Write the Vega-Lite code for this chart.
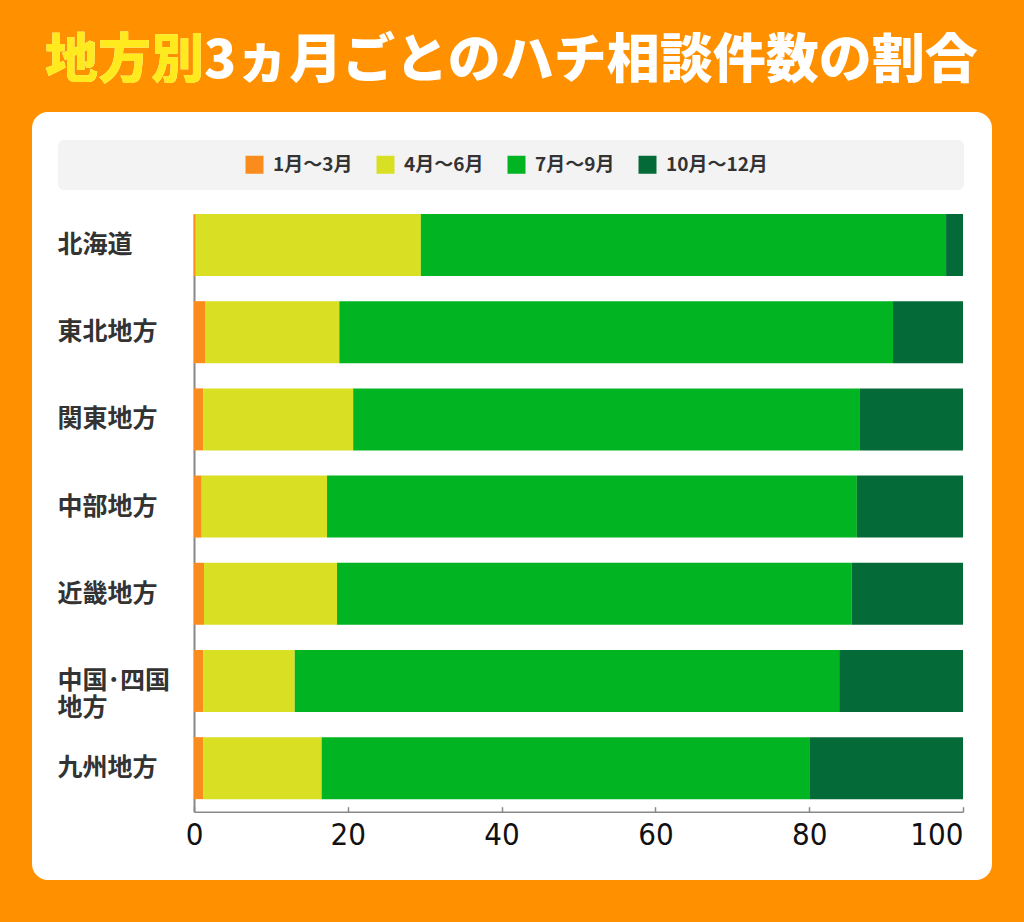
{
  "$schema": "https://vega.github.io/schema/vega-lite/v6.json",
  "description": "地方別3ヵ月ごとのハチ相談件数の割合（横積み上げ棒グラフ）",
  "background": "#FF9100",
  "autosize": {"type": "none"},
  "padding": {"top": 112, "left": 32, "right": 32, "bottom": 42},
  "width": 960,
  "height": 768,
  "title": {
    "text": "地方別3ヵ月ごとのハチ相談件数の割合",
    "subtitle": "地方別",
    "anchor": "start",
    "frame": "group",
    "dx": 13,
    "offset": 23,
    "font": "Noto Sans CJK JP",
    "fontSize": 53,
    "fontWeight": 900,
    "color": "#FFFFFF",
    "subtitleFont": "Noto Sans CJK JP",
    "subtitleFontSize": 53,
    "subtitleFontWeight": 900,
    "subtitleColor": "#FFEA1E",
    "subtitlePadding": -53
  },
  "data": {
    "values": [
      {"region": "北海道", "period": "1月～3月", "q": 1, "share": 0.2},
      {"region": "北海道", "period": "4月～6月", "q": 2, "share": 29.3},
      {"region": "北海道", "period": "7月～9月", "q": 3, "share": 68.3},
      {"region": "北海道", "period": "10月～12月", "q": 4, "share": 2.2},
      {"region": "東北地方", "period": "1月～3月", "q": 1, "share": 1.5},
      {"region": "東北地方", "period": "4月～6月", "q": 2, "share": 17.4},
      {"region": "東北地方", "period": "7月～9月", "q": 3, "share": 72.0},
      {"region": "東北地方", "period": "10月～12月", "q": 4, "share": 9.1},
      {"region": "関東地方", "period": "1月～3月", "q": 1, "share": 1.2},
      {"region": "関東地方", "period": "4月～6月", "q": 2, "share": 19.5},
      {"region": "関東地方", "period": "7月～9月", "q": 3, "share": 65.9},
      {"region": "関東地方", "period": "10月～12月", "q": 4, "share": 13.4},
      {"region": "中部地方", "period": "1月～3月", "q": 1, "share": 1.0},
      {"region": "中部地方", "period": "4月～6月", "q": 2, "share": 16.3},
      {"region": "中部地方", "period": "7月～9月", "q": 3, "share": 68.9},
      {"region": "中部地方", "period": "10月～12月", "q": 4, "share": 13.8},
      {"region": "近畿地方", "period": "1月～3月", "q": 1, "share": 1.3},
      {"region": "近畿地方", "period": "4月～6月", "q": 2, "share": 17.3},
      {"region": "近畿地方", "period": "7月～9月", "q": 3, "share": 66.9},
      {"region": "近畿地方", "period": "10月～12月", "q": 4, "share": 14.5},
      {"region": "中国・四国地方", "period": "1月～3月", "q": 1, "share": 1.2},
      {"region": "中国・四国地方", "period": "4月～6月", "q": 2, "share": 11.9},
      {"region": "中国・四国地方", "period": "7月～9月", "q": 3, "share": 70.8},
      {"region": "中国・四国地方", "period": "10月～12月", "q": 4, "share": 16.1},
      {"region": "九州地方", "period": "1月～3月", "q": 1, "share": 1.2},
      {"region": "九州地方", "period": "4月～6月", "q": 2, "share": 15.4},
      {"region": "九州地方", "period": "7月～9月", "q": 3, "share": 63.5},
      {"region": "九州地方", "period": "10月～12月", "q": 4, "share": 19.9}
    ]
  },
  "mark": {"type": "bar"},
  "encoding": {
    "y": {
      "field": "region",
      "type": "nominal",
      "sort": null,
      "scale": {"range": [102, 699.7], "paddingInner": 0.289, "paddingOuter": 0.072, "align": 0},
      "axis": {
        "title": null,
        "orient": "left",
        "offset": -162,
        "ticks": false,
        "domainColor": "#888888",
        "domainWidth": 2,
        "labelAlign": "left",
        "labelBaseline": "middle",
        "labelPadding": 137,
        "labelFont": "Noto Sans CJK JP",
        "labelFontSize": 25,
        "labelFontWeight": "bold",
        "labelColor": "#333333",
        "labelLineHeight": 27,
        "labelLimit": 300,
        "labelExpr": "datum.label == '中国・四国地方' ? ['中国･四国', '地方'] : datum.label"
      }
    },
    "x": {
      "field": "share",
      "type": "quantitative",
      "stack": "zero",
      "scale": {"domain": [0, 100], "range": [162, 931], "nice": false},
      "axis": {
        "title": null,
        "orient": "bottom",
        "offset": -68.3,
        "values": [0, 20, 40, 60, 80, 100],
        "grid": false,
        "domainColor": "#888888",
        "domainWidth": 1.5,
        "tickColor": "#888888",
        "tickWidth": 1.5,
        "tickSize": -5,
        "labelPadding": 14,
        "labelFont": "DejaVu Sans Condensed, Liberation Sans Narrow, sans-serif",
        "labelFontSize": 31,
        "labelColor": "#111111",
        "labelAlign": {"condition": {"test": "datum.value === 100", "value": "right"}, "value": "center"},
        "labelOverlap": false
      }
    },
    "color": {
      "field": "period",
      "type": "nominal",
      "scale": {
        "domain": ["1月～3月", "4月～6月", "7月～9月", "10月～12月"],
        "range": ["#FA8C1E", "#D9DF22", "#00B422", "#046A38"]
      },
      "legend": {
        "orient": "none",
        "legendX": 26,
        "legendY": 28,
        "direction": "horizontal",
        "title": "　",
        "titleOrient": "left",
        "titleFontSize": 10,
        "titlePadding": 172,
        "fillColor": "#F3F3F3",
        "cornerRadius": 6,
        "padding": 15,
        "symbolType": "square",
        "symbolSize": 324,
        "symbolStrokeWidth": 0,
        "symbolOpacity": 1,
        "columnPadding": 23,
        "labelOffset": 9,
        "labelFont": "Noto Sans CJK JP",
        "labelFontSize": 19,
        "labelFontWeight": "bold",
        "labelColor": "#333333",
        "labelLimit": 500,
        "labelExpr": "datum.label == '10月～12月' ? datum.label + '　　　　　　　　　\u2002\u200b' : datum.label"
      }
    },
    "order": {"field": "q", "type": "quantitative"}
  },
  "config": {
    "view": {"fill": "#FFFFFF", "stroke": null, "cornerRadius": 16}
  }
}
